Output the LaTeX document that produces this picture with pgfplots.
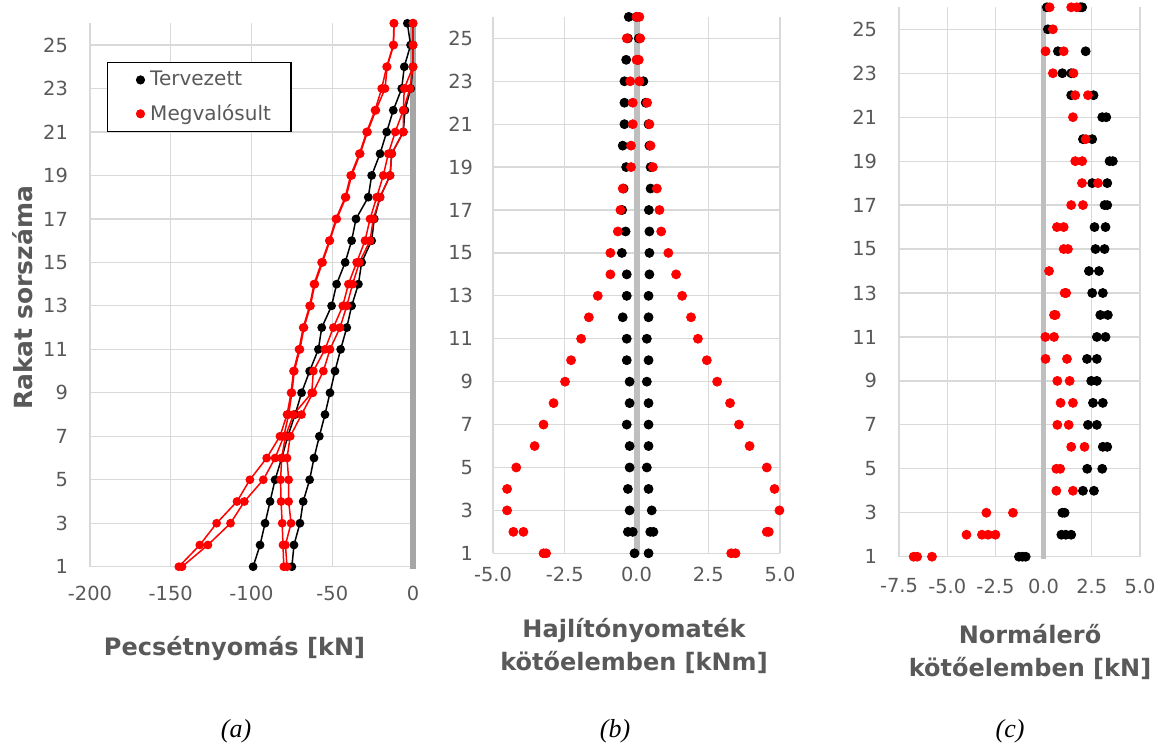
\documentclass[border=0pt]{standalone}
\usepackage{pgfplots}
\pgfplotsset{compat=1.18}
\usepackage{fontspec}
\setmainfont{DejaVu Sans}
\newfontfamily\capfont{Liberation Serif}
\definecolor{txt}{HTML}{595959}
\definecolor{gridc}{HTML}{D9D9D9}
\definecolor{zeroA}{HTML}{A6A6A6}
\definecolor{zeroB}{HTML}{BFBFBF}
\definecolor{myred}{HTML}{FF0000}
\pgfplotsset{panel/.style={
  scale only axis, anchor=south west, clip=false,
  axis line style={draw=none}, tick style={draw=none},
  grid=major, major grid style={draw=gridc, line width=0.6pt},
  ymin=1, ymax=26, ytick={1,3,5,7,9,11,13,15,17,19,21,23,25},
  yticklabels={1,3,5,7,9,11,13,15,17,19,21,23,25},
  tick label style={font=\fontsize{9.7}{11}\selectfont, text=txt},
}}
\begin{document}
\begin{tikzpicture}
\useasboundingbox (0,0) rectangle (582.5pt,-372pt);
% ---------------- panel a
\begin{axis}[panel, at={(45pt,-283.35pt)}, width=161.5pt, height=271.7pt,
  xmin=-200, xmax=0, xtick={-200,-150,-100,-50,0}, xticklabels={-200,-150,-100,-50,0},
  yticklabel style={xshift=-7.5pt}, xticklabel style={yshift=-6.3pt},
  legend style={at={(0.0526,0.9288)}, anchor=north west, draw=black, line width=0.75pt,
    fill=white, inner xsep=8pt, inner ysep=2.2pt, row sep=3.8pt, column sep=0.6pt,
    font=\fontsize{10}{12}\selectfont, text=txt, cells={anchor=west}},
  legend cell align=left,
  legend image code/.code={\path (0pt,0pt) (9.9pt,0pt); \fill[#1] (8pt,0pt) circle (1.9pt);},
  legend entries={Tervezett, Megvalósult}]
\addlegendimage{black}
\addlegendimage{myred}
\addplot[zeroA, line width=2.6pt, forget plot] coordinates {(0,0.9) (0,26.1)};
\addplot[black, line width=0.75pt, mark=*, mark size=1.8pt, forget plot] coordinates {(-99,1)(-94.7,2)(-91.6,3)(-88.5,4)(-85.4,5)(-81.3,6)(-77.5,7)(-73,8)(-69,9)(-64,10)(-58.6,11)(-56.5,12)(-50.4,13)(-47.3,14)(-42,15)(-38,16)(-35.3,17)(-27.7,18)(-25.6,19)(-20.4,20)(-16.3,21)(-12.2,22)(-7,23)(-5.4,24)(-1.5,25)(-3.5,26)};
\addplot[black, line width=0.75pt, mark=*, mark size=1.8pt, forget plot] coordinates {(-75,1)(-73.7,2)(-70,3)(-68,4)(-64,5)(-61.3,6)(-58,7)(-54.5,8)(-51.4,9)(-48.3,10)(-44.8,11)(-41,12)(-38,13)(-33.8,14)(-31.8,15)(-25.6,16)(-24,17)(-20.4,18)(-14.2,19)(-13.2,20)(-6,21)(-5,22)(-1.4,23)(0,24)(0,25)(0,26)};
\addplot[myred, line width=0.75pt, mark=*, mark size=1.8pt, forget plot] coordinates {(-145,1)(-132,2)(-121.6,3)(-109,4)(-101,5)(-90.6,6)(-82.4,7)(-78,8)(-75.5,9)(-74,10)(-70.6,11)(-68,12)(-64,13)(-61.3,14)(-56.6,15)(-51.8,16)(-47.7,17)(-42,18)(-38.6,19)(-33.2,20)(-28.7,21)(-23.5,22)(-19.4,23)(-16.3,24)(-12.2,25)(-11.8,26)};
\addplot[myred, line width=0.75pt, mark=*, mark size=1.8pt, forget plot] coordinates {(-143,1)(-127,2)(-113,3)(-104.4,4)(-92.7,5)(-85.4,6)(-80,7)(-77,8)(-75,9)(-73.5,10)(-70,11)(-67.5,12)(-63.5,13)(-60.8,14)(-56,15)(-51.5,16)(-47.2,17)(-41.5,18)(-38,19)(-32.7,20)(-28.2,21)(-23,22)(-17.3,23)(-16,24)(-12,25)(-11.8,26)};
\addplot[myred, line width=0.75pt, mark=*, mark size=1.8pt, forget plot] coordinates {(-80,1)(-80.5,2)(-81,3)(-81.7,4)(-82,5)(-81.3,6)(-79,7)(-74,8)(-62.7,9)(-61.7,10)(-54.5,11)(-49.3,12)(-43.5,13)(-40,14)(-34.9,15)(-29.7,16)(-26.6,17)(-22.5,18)(-18.4,19)(-15.3,20)(-11,21)(-6,22)(-5.4,23)(0,24)(0,25)(0,26)};
\addplot[myred, line width=0.75pt, mark=*, mark size=1.8pt, forget plot] coordinates {(-78,1)(-79,2)(-75.5,3)(-77,4)(-77,5)(-78,6)(-76,7)(-69,8)(-62,9)(-55.5,10)(-51.4,11)(-45.2,12)(-41,13)(-37.4,14)(-33.2,15)(-26.6,16)(-24.6,17)(-20.4,18)(-14.2,19)(-13.2,20)(-6,21)(-6,22)(-1.9,23)(0,24)(0,25)(0,26)};
\end{axis}
% ---------------- panel b
\begin{axis}[panel, at={(246.5pt,-276.65pt)}, width=143.5pt, height=268.2pt,
  xmin=-5, xmax=5, xtick={-5,-2.5,0,2.5,5}, xticklabels={-5.0,-2.5,0.0,2.5,5.0},
  yticklabel style={xshift=-6.5pt}, xticklabel style={yshift=-3.2pt}]
\addplot[zeroB, line width=3pt] coordinates {(0,0.9) (0,26.1)};
\addplot[only marks, black, mark=*, mark size=2.25pt] coordinates {
(-0.27,26)(0.0,26)(-0.3,25)(0.08,25)(-0.36,24)(0.05,24)(-0.42,23)(0.24,23)(-0.42,22)(0.32,22)
(-0.42,21)(0.42,21)(-0.48,20)(0.45,20)(-0.36,19)(0.49,19)(-0.45,18)(0.49,18)(-0.5,17)(0.43,17)
(-0.38,16)(0.45,16)(-0.51,15)(0.45,15)(-0.34,14)(0.45,14)(-0.34,13)(0.42,13)(-0.48,12)(0.42,12)
(-0.34,11)(0.36,11)(-0.34,10)(0.42,10)(-0.24,9)(0.36,9)(-0.24,8)(0.42,8)(-0.34,7)(0.42,7)
(-0.24,6)(0.42,6)(-0.24,5)(0.36,5)(-0.3,4)(0.42,4)(-0.24,3)(0.53,3)(-0.3,2)(-0.13,2)(0.48,2)(0.59,2)
(-0.07,1)(0.42,1)};
\addplot[only marks, myred, mark=*, mark size=2.25pt] coordinates {
(0.0,26)(0.1,26)(-0.34,25)(0.13,25)(0.0,24)(0.08,24)(-0.22,23)(0.1,23)(-0.13,22)(0.37,22)
(-0.13,21)(0.45,21)(-0.19,20)(0.49,20)(-0.19,19)(0.57,19)(-0.48,18)(0.71,18)(-0.56,17)(0.8,17)
(-0.65,16)(0.86,16)(-0.91,15)(1.11,15)(-0.91,14)(1.38,14)(-1.35,13)(1.59,13)(-1.66,12)(1.9,12)
(-1.93,11)(2.14,11)(-2.28,10)(2.45,10)(-2.49,9)(2.81,9)(-2.89,8)(3.26,8)(-3.24,7)(3.57,7)
(-3.55,6)(3.94,6)(-4.19,5)(4.54,5)(-4.51,4)(4.81,4)(-4.51,3)(4.98,3)(-4.29,2)(-3.94,2)(4.54,2)(4.61,2)
(-3.24,1)(-3.15,1)(3.3,1)(3.45,1)};
\end{axis}
% ---------------- panel c
\begin{axis}[panel, at={(449.5pt,-278.35pt)}, width=120.5pt, height=274.7pt,
  xmin=-7.5, xmax=5, xtick={-7.5,-5,-2.5,0,2.5,5}, xticklabels={-7.5,-5.0,-2.5,0.0,2.5,5.0},
  yticklabel style={xshift=-7.5pt}, xticklabel style={yshift=-7.5pt}]
\addplot[zeroB, line width=2.6pt] coordinates {(0,0.9) (0,26.1)};
\addplot[only marks, black, mark=*, mark size=2.25pt] coordinates {
(0.17,26)(1.9,26)(2.0,26)(0.22,25)(0.74,24)(2.18,24)(0.97,23)(1.43,23)(1.43,22)(2.59,22)
(3.04,21)(3.25,21)(2.04,20)(2.52,20)(3.42,19)(3.59,19)(2.52,18)(3.3,18)(3.16,17)(3.3,17)
(2.64,16)(3.21,16)(2.69,15)(3.16,15)(2.35,14)(2.87,14)(2.52,13)(3.07,13)(2.94,12)(3.33,12)
(2.76,11)(3.21,11)(2.25,10)(2.76,10)(2.47,9)(2.76,9)(2.56,8)(3.07,8)(2.3,7)(2.76,7)
(3.07,6)(3.3,6)(2.26,5)(3.04,5)(2.04,4)(2.61,4)(0.97,3)(1.09,3)(0.92,2)(1.15,2)(1.43,2)
(-1.28,1)(-1.1,1)(-0.93,1)};
\addplot[only marks, myred, mark=*, mark size=2.25pt] coordinates {
(0.31,26)(1.43,26)(1.72,26)(0.48,25)(0.1,24)(1.04,24)(0.48,23)(1.55,23)(1.64,22)(2.3,22)
(1.52,21)(2.18,20)(1.64,19)(2.0,19)(1.99,18)(2.82,18)(1.43,17)(2.04,17)
(0.69,16)(1.04,16)(1.04,15)(1.26,15)(0.28,14)(1.09,13)(1.17,13)(0.54,12)(0.62,12)
(0.09,11)(0.54,11)(0.1,10)(1.21,10)(0.71,9)(1.35,9)(0.88,8)(1.52,8)(0.71,7)(1.3,7)
(1.43,6)(2.12,6)(0.66,5)(0.86,5)(0.66,4)(1.52,4)(-2.97,3)(-1.59,3)(-4.0,2)(-3.2,2)(-2.88,2)(-2.5,2)
(-6.74,1)(-6.56,1)(-5.79,1)};
\end{axis}
% ---------------- labels
\begin{scope}[every node/.style={text=txt, font=\bfseries\fontsize{12}{14}\selectfont, inner sep=0pt}]
\node[anchor=base] at (117.25pt,-327.5pt) {Pecsétnyomás [kN]};
\node[anchor=base] at (317pt,-318.5pt) {Hajlítónyomaték};
\node[anchor=base] at (317pt,-335pt) {kötőelemben [kNm]};
\node[anchor=base] at (515pt,-321.5pt) {Normálerő};
\node[anchor=base] at (515pt,-338pt) {kötőelemben [kN]};
\node[rotate=90, font=\bfseries\fontsize{12.5}{14}\selectfont] at (11.5pt,-149pt) {Rakat sorszáma};
\end{scope}
\begin{scope}[every node/.style={text=black, font=\capfont\itshape\fontsize{13}{15}\selectfont, inner sep=0pt, anchor=base}]
\node at (118pt,-368.5pt) {(a)};
\node at (307.5pt,-368.5pt) {(b)};
\node at (505pt,-368.5pt) {(c)};
\end{scope}
\end{tikzpicture}
\end{document}
